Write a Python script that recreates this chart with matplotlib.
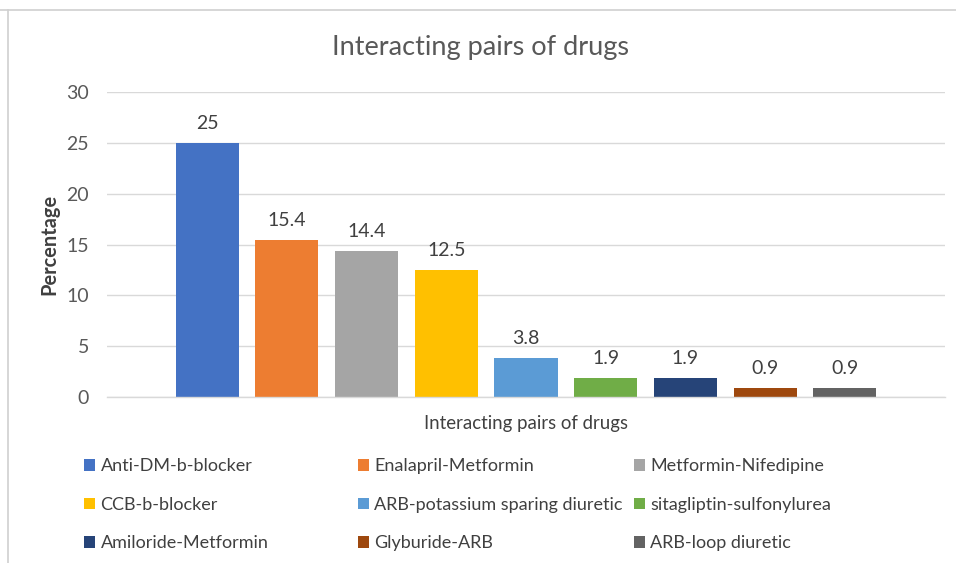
import matplotlib.pyplot as plt
from matplotlib.lines import Line2D
from matplotlib.patches import Patch

plt.rcParams['font.family'] = ['Lato', 'DejaVu Sans']

# data
pairs = ['Anti-DM-b-blocker', 'Enalapril-Metformin', 'Metformin-Nifedipine',
         'CCB-b-blocker', 'ARB-potassium sparing diuretic', 'sitagliptin-sulfonylurea',
         'Amiloride-Metformin', 'Glyburide-ARB', 'ARB-loop diuretic']
percent = [25, 15.4, 14.4, 12.5, 3.8, 1.9, 1.9, 0.9, 0.9]
value_labels = ['25', '15.4', '14.4', '12.5', '3.8', '1.9', '1.9', '0.9', '0.9']
colors = ['#4472C4', '#ED7D31', '#A5A5A5', '#FFC000', '#5B9BD5',
          '#70AD47', '#264478', '#9E480E', '#636363']
y_ticks = [0, 5, 10, 15, 20, 25, 30]

W, H = 956, 563
fig = plt.figure(figsize=(W / 100, H / 100), dpi=100)
ax = fig.add_axes([107 / W, 1 - 397 / H, (945 - 107) / W, (397 - 92) / H])

x = list(range(len(pairs)))
bars = ax.bar(x, percent, width=0.79, color=colors)
for b, lab in zip(bars, value_labels):
    ax.annotate(lab, (b.get_x() + b.get_width() / 2, b.get_height()),
                xytext=(0, 11), textcoords='offset pixels', ha='center', va='bottom',
                fontsize=14, color='#404040')

ax.set_xlim(-1.254, len(pairs) - 1 + 1.254)
ax.set_ylim(0, 30)
ax.set_yticks(y_ticks)
ax.set_xticks([])
ax.tick_params(axis='y', length=0, pad=13, labelsize=14, labelcolor='#595959')
ax.grid(axis='y', color='#D9D9D9', linewidth=1)
ax.set_axisbelow(True)
for s in ['top', 'right', 'left']:
    ax.spines[s].set_visible(False)
ax.spines['bottom'].set_color('#D9D9D9')
ax.spines['bottom'].set_linewidth(1)

ax.set_ylabel('Percentage', fontsize=14.4, fontweight='bold', color='#404040', labelpad=5)
ax.set_xlabel('Interacting pairs of drugs', fontsize=13.4, color='#404040', labelpad=13)

fig.text(480 / W, 1 - 47 / H, 'Interacting pairs of drugs', ha='center', va='center',
         fontsize=19.5, color='#595959')

# legend: three columns, filled row by row
col_x = [77, 351, 627]
for c in range(3):
    idx = [c, c + 3, c + 6]
    handles = [Patch(facecolor=colors[i]) for i in idx]
    leg = fig.legend(handles, [pairs[i] for i in idx], loc='upper left',
                     bbox_to_anchor=(col_x[c] / W, 1 - 451 / H), frameon=False,
                     fontsize=13, handlelength=0.6, handleheight=0.6,
                     handletextpad=0.3, labelspacing=1.25, borderaxespad=0)
    for t in leg.get_texts():
        t.set_color('#404040')

# outer chart border
fig.add_artist(Line2D([0, 1], [1 - 10 / H, 1 - 10 / H], color='#D0D0D0', lw=1.2))
fig.add_artist(Line2D([8 / W, 8 / W], [0, 1 - 10 / H], color='#D0D0D0', lw=1.2))

fig.savefig('out.png', dpi=100)
